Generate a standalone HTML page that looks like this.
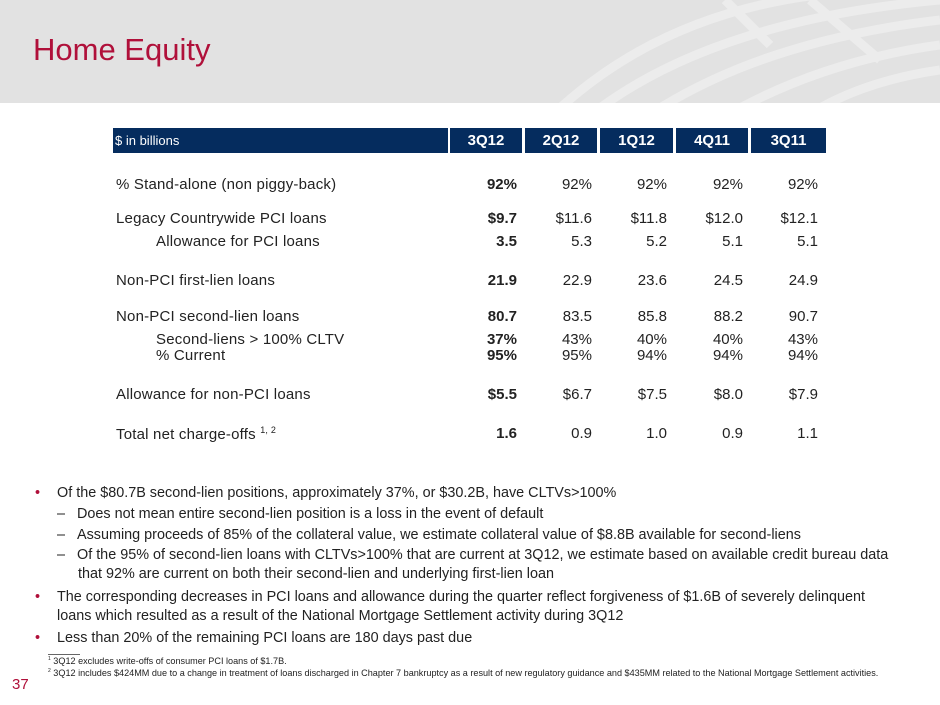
<!DOCTYPE html>
<html><head><meta charset="utf-8"><style>
body{margin:0;width:940px;height:705px;position:relative;overflow:hidden;background:#fff;font-family:"Liberation Sans",Arial,sans-serif;color:#222}
.a{position:absolute;white-space:nowrap}
.hdr{position:absolute;left:0;top:0;width:940px;height:103px;background:#e2e2e2;overflow:hidden}
.cell{position:absolute;top:128px;height:25px;background:#052c5e;color:#fff;font-weight:bold;font-size:15px;line-height:25px;text-align:center}
.r{position:absolute;font-size:15px;text-align:right;width:70px}
.l{position:absolute;font-size:15px;letter-spacing:0.2px}
.b{font-weight:bold}
.t{position:absolute;font-size:14.4px;color:#222;white-space:nowrap}
.f{position:absolute;font-size:9.1px;white-space:nowrap}
</style></head><body>
<div class="hdr"><svg width="940" height="103" style="position:absolute;left:0;top:0">
<g fill="none" stroke="#ececec" stroke-width="9">
<path d="M560 108 Q690 -10 900 -10"/>
<path d="M600 108 Q720 20 940 0"/>
<path d="M660 108 Q770 40 940 20"/>
<path d="M740 108 Q830 60 940 45"/>
<path d="M820 108 Q870 80 940 70"/>
<line x1="725" y1="0" x2="770" y2="45"/><line x1="810" y1="0" x2="880" y2="60"/>
</g></svg></div>
<div class="a" style="left:33px;top:32px;font-size:31px;color:#b0103a">Home Equity</div>
<div class="cell" style="left:113px;width:335px;text-align:left;font-weight:normal;font-size:13px;padding-left:2px;box-sizing:border-box">$ in billions</div>
<div class="cell" style="left:450px;width:72px">3Q12</div>
<div class="cell" style="left:525px;width:72px">2Q12</div>
<div class="cell" style="left:600px;width:73px">1Q12</div>
<div class="cell" style="left:676px;width:72px">4Q11</div>
<div class="cell" style="left:751px;width:75px">3Q11</div>

<div class="l" style="left:116px;top:176px">% Stand-alone (non piggy-back)</div>
<div class="l" style="left:116px;top:210px">Legacy Countrywide PCI loans</div>
<div class="l" style="left:156px;top:233px">Allowance for PCI loans</div>
<div class="l" style="left:116px;top:272px">Non-PCI first-lien loans</div>
<div class="l" style="left:116px;top:308px">Non-PCI second-lien loans</div>
<div class="l" style="left:156px;top:331px">Second-liens &gt; 100% CLTV</div>
<div class="l" style="left:156px;top:347px">% Current</div>
<div class="l" style="left:116px;top:386px">Allowance for non-PCI loans</div>
<div class="l" style="left:116px;top:425px">Total net charge-offs <sup style="font-size:9px">1, 2</sup></div>

<div id="vals"></div>
<script>
var rows=[[176,"92%","92%","92%","92%","92%"],[210,"$9.7","$11.6","$11.8","$12.0","$12.1"],[233,"3.5","5.3","5.2","5.1","5.1"],[272,"21.9","22.9","23.6","24.5","24.9"],[308,"80.7","83.5","85.8","88.2","90.7"],[331,"37%","43%","40%","40%","43%"],[347,"95%","95%","94%","94%","94%"],[386,"$5.5","$6.7","$7.5","$8.0","$7.9"],[425,"1.6","0.9","1.0","0.9","1.1"]];
var xs=[517,592,667,743,818],h="";
rows.forEach(function(r){for(var i=0;i<5;i++){h+='<div class="r'+(i==0?' b':'')+'" style="left:'+(xs[i]-70)+'px;top:'+r[0]+'px">'+r[i+1]+'</div>';}});
document.getElementById('vals').innerHTML=h;
</script>

<div class="t" style="left:35px;top:485px;color:#b0103a">•</div>
<div class="t" style="left:57px;top:485px">Of the $80.7B second-lien positions, approximately 37%, or $30.2B, have CLTVs&gt;100%</div>
<div class="t" style="left:57px;top:506px">–&nbsp;&nbsp;&nbsp;Does not mean entire second-lien position is a loss in the event of default</div>
<div class="t" style="left:57px;top:527px">–&nbsp;&nbsp;&nbsp;Assuming proceeds of 85% of the collateral value, we estimate collateral value of $8.8B available for second-liens</div>
<div class="t" style="left:57px;top:547px">–&nbsp;&nbsp;&nbsp;Of the 95% of second-lien loans with CLTVs&gt;100% that are current at 3Q12, we estimate based on available credit bureau data</div>
<div class="t" style="left:78px;top:566px">that 92% are current on both their second-lien and underlying first-lien loan</div>
<div class="t" style="left:35px;top:589px;color:#b0103a">•</div>
<div class="t" style="left:57px;top:589px">The corresponding decreases in PCI loans and allowance during the quarter reflect forgiveness of $1.6B of severely delinquent</div>
<div class="t" style="left:57px;top:608px">loans which resulted as a result of the National Mortgage Settlement activity during 3Q12</div>
<div class="t" style="left:35px;top:630px;color:#b0103a">•</div>
<div class="t" style="left:57px;top:630px">Less than 20% of the remaining PCI loans are 180 days past due</div>
<div class="a" style="left:48px;top:654px;width:32px;border-top:1px solid #666"></div>
<div class="f" style="left:48px;top:656px"><sup style="font-size:5px">1</sup> 3Q12 excludes write-offs of consumer PCI loans of $1.7B.</div>
<div class="f" style="left:48px;top:668px"><sup style="font-size:5px">2</sup> 3Q12 includes $424MM due to a change in treatment of loans discharged in Chapter 7 bankruptcy as a result of new regulatory guidance and $435MM related to the National Mortgage Settlement activities.</div>
<div class="a" style="left:12px;top:676px;font-size:15px;color:#b0103a;line-height:18px">37</div>
</body></html>
